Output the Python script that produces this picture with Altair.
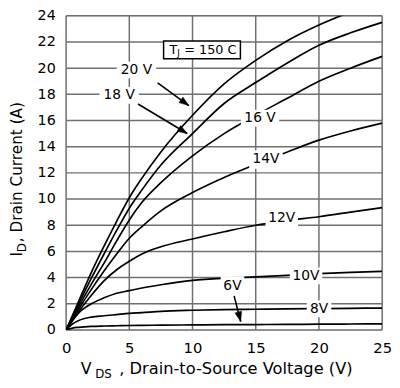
import math
import altair as alt
import pandas as pd

# ---------------- data ----------------
vds = [0, 0.5, 1, 2, 3, 4, 5, 6, 7.5, 10, 12.5, 15, 17.5, 20, 22.5, 25]
i_20v = [0, 1.1, 2.2, 4.4, 6.4, 8.3, 10.1, 11.6, 13.6, 16.4, 18.8, 20.6, 22.1, 23.3, 24.3, None]
i_18v = [0, 1.0, 2.0, 3.95, 5.8, 7.6, 9.3, 10.7, 12.6, 15.0, 17.3, 18.9, 20.4, 21.75, 22.7, 23.5]
i_16v = [0, 0.9, 1.8, 3.5, 5.1, 6.8, 8.4, 9.75, 11.25, 13.3, 15.0, 16.4, 17.7, 19.0, 20.0, 20.9]
i_14v = [0, 0.8, 1.6, 3.1, 4.5, 5.8, 7.0, 7.9, 9.1, 10.5, 11.65, 12.65, 13.6, 14.5, 15.2, 15.8]
i_12v = [0, 0.72, 1.4, 2.65, 3.75, 4.6, 5.25, 5.8, 6.35, 6.95, 7.5, 8.0, 8.35, 8.65, 9.0, 9.35]
i_10v = [0, 0.7, 1.3, 2.0, 2.45, 2.8, 3.0, 3.2, 3.45, 3.78, 3.95, 4.05, 4.17, 4.3, 4.4, 4.47]
i_8v = [0, 0.45, 0.72, 0.98, 1.08, 1.17, 1.26, 1.32, 1.42, 1.5, 1.55, 1.58, 1.61, 1.63, 1.65, 1.67]
i_6v = [0, 0.14, 0.2, 0.27, 0.3, 0.32, 0.34, 0.35, 0.36, 0.38, 0.4, 0.41, 0.42, 0.44, 0.45, 0.46]

curve_names = ["20V", "18V", "16V", "14V", "12V", "10V", "8V", "6V"]
curve_values = [i_20v, i_18v, i_16v, i_14v, i_12v, i_10v, i_8v, i_6v]

x_ticks = [0, 5, 10, 15, 20, 25]
y_ticks = [0, 2, 4, 6, 8, 10, 12, 14, 16, 18, 20, 22, 24]

# curve labels (text, anchor V, anchor I)
label_text = ["20 V", "18 V", "16 V", "14V", "12V", "10V", "8V", "6V"]
label_v = [5.57, 4.2, 15.34, 15.81, 17.06, 18.98, 20.01, 13.16]
label_i = [19.87, 17.93, 16.19, 13.02, 8.54, 4.13, 1.61, 3.35]
label_box_w = [40, 40, 39, 34, 33, 33, 25, 24]
label_box_h = [17, 17, 17, 19, 17, 17, 17, 20]

# arrows: start (V, I) -> tip (V, I)
arrow_v0 = [7.24, 5.69, 13.29]
arrow_i0 = [18.88, 17.26, 2.6]
arrow_v1 = [9.71, 9.58, 13.81]
arrow_i1 = [17.14, 15.01, 0.64]

# T_J annotation
tj_box_v, tj_box_i = 10.75, 21.4
tj_parts = ["T", "J", "= 150 C"]
tj_part_v = [8.18, 8.8, 9.35]
tj_part_i = [21.4, 21.15, 21.4]

# ---------------- layout ----------------
W, H = 321, 319
FONT = "DejaVu Sans"
GRID = "#707070"

rows = []
for name, vals in zip(curve_names, curve_values):
    for v, i in zip(vds, vals):
        rows.append({"V": v, "I": i, "vgs": name})
curves = pd.DataFrame(rows)

xscale = alt.Scale(domain=[0, 25], nice=False, zero=False)
yscale = alt.Scale(domain=[0, 24], nice=False, zero=False)
xaxis = alt.Axis(values=x_ticks, title=None, grid=False, ticks=False, domain=False,
                 labelFontSize=15, labelFont=FONT, labelColor="black",
                 labelPadding=11, labelFlush=False)
yaxis = alt.Axis(values=y_ticks, title=None, grid=False, ticks=False, domain=False,
                 labelFontSize=14.5, labelFont=FONT, labelColor="black",
                 labelPadding=11, labelFlush=False)


def X(field="V"):
    return alt.X(f"{field}:Q", scale=xscale, axis=xaxis)


def Y(field="I"):
    return alt.Y(f"{field}:Q", scale=yscale, axis=yaxis)


# grid drawn as rules at the tick values
vgrid = alt.Chart(pd.DataFrame({"V": x_ticks})).mark_rule(
    color=GRID, strokeWidth=1.5).encode(x=X())
hgrid = alt.Chart(pd.DataFrame({"I": y_ticks})).mark_rule(
    color=GRID, strokeWidth=1.5).encode(y=Y())

lines = alt.Chart(curves).mark_line(
    color="black", strokeWidth=1.7, interpolate="monotone", clip=True
).encode(x=X(), y=Y(), detail="vgs:N")


def box_path(w, h):
    r = h / w
    return f"M-1,-{r:.4f}L1,-{r:.4f}L1,{r:.4f}L-1,{r:.4f}Z"


labels = pd.DataFrame({
    "V": label_v, "I": label_i, "text": label_text,
    "shape": [box_path(w, h) for w, h in zip(label_box_w, label_box_h)],
    "sz": [w * w for w in label_box_w],
})

boxes = alt.Chart(labels).mark_point(
    fill="white", stroke="white", strokeWidth=0, opacity=1, fillOpacity=1
).encode(x=X(), y=Y(),
         shape=alt.Shape("shape:N", scale=None),
         size=alt.Size("sz:Q", scale=None))

texts = alt.Chart(labels).mark_text(
    font=FONT, fontSize=14, color="black", align="center", baseline="middle"
).encode(x=X(), y=Y(), text="text:N")

# arrows
pxv, pxa = W / 25, H / 24
angles = []
for v0, i0, v1, i1 in zip(arrow_v0, arrow_i0, arrow_v1, arrow_i1):
    dx = (v1 - v0) * pxv
    dy = -(i1 - i0) * pxa
    angles.append(math.degrees(math.atan2(dx, -dy)) % 360)

arrows = pd.DataFrame({"V": arrow_v0, "I": arrow_i0, "V2": arrow_v1, "I2": arrow_i1})
heads = pd.DataFrame({"V": arrow_v1, "I": arrow_i1, "ang": angles})

shafts = alt.Chart(arrows).mark_rule(color="black", strokeWidth=1.6).encode(
    x=X(), y=Y(), x2="V2:Q", y2="I2:Q")
arrowheads = alt.Chart(heads).mark_point(
    shape="M0,0L-0.38,1.1L0.38,1.1Z", size=324, fill="black", stroke="black",
    strokeWidth=0.5, opacity=1, fillOpacity=1
).encode(x=X(), y=Y(), angle=alt.Angle("ang:Q", scale=None))

# T_J box
tjbox = alt.Chart(pd.DataFrame({"V": [tj_box_v], "I": [tj_box_i]})).mark_point(
    shape=box_path(78, 18), size=78 * 78, fill="white", stroke="black",
    strokeWidth=1.5, opacity=1, fillOpacity=1
).encode(x=X(), y=Y())
tj_df = pd.DataFrame({"V": tj_part_v, "I": tj_part_i, "text": tj_parts,
                      "fs": [13, 9, 13]})
tjtext = alt.Chart(tj_df).mark_text(
    font=FONT, color="black", align="left", baseline="middle"
).encode(x=X(), y=Y(), text="text:N", size=alt.Size("fs:Q", scale=None))

# axis titles with subscripts
xt1 = alt.Chart().mark_text(text="V", font=FONT, fontSize=16, align="left",
                            baseline="alphabetic", color="black").encode(
    x=alt.value(15), y=alt.value(363.5))
xt2 = alt.Chart().mark_text(text="DS", font=FONT, fontSize=12, align="left",
                            baseline="alphabetic", color="black").encode(
    x=alt.value(29.5), y=alt.value(368))
xt3 = alt.Chart().mark_text(text=", Drain-to-Source Voltage (V)", font=FONT,
                            fontSize=16.5, align="left", baseline="alphabetic",
                            color="black").encode(x=alt.value(54), y=alt.value(363.5))

yt1 = alt.Chart().mark_text(text="I", font=FONT, fontSize=15.5, align="left",
                            baseline="alphabetic", angle=270, color="black").encode(
    x=alt.value(-44.5), y=alt.value(244.5))
yt2 = alt.Chart().mark_text(text="D", font=FONT, fontSize=12, align="left",
                            baseline="alphabetic", angle=270, color="black").encode(
    x=alt.value(-40.5), y=alt.value(240))
yt3 = alt.Chart().mark_text(text=", Drain Current (A)", font=FONT, fontSize=15.5,
                            align="left", baseline="alphabetic", angle=270,
                            color="black").encode(x=alt.value(-44.5), y=alt.value(230))

chart = alt.layer(
    vgrid, hgrid, lines, boxes, texts, shafts, arrowheads, tjbox, tjtext,
    xt1, xt2, xt3, yt1, yt2, yt3
).properties(
    width=W, height=H,
    autosize=alt.AutoSizeParams(type="none"),
    padding={"left": 59, "top": 5, "right": 10, "bottom": 53},
).configure_view(
    stroke="black", strokeWidth=2
).configure(background="white")

chart.save("out.html", embed_options={"renderer": "svg", "actions": False})
